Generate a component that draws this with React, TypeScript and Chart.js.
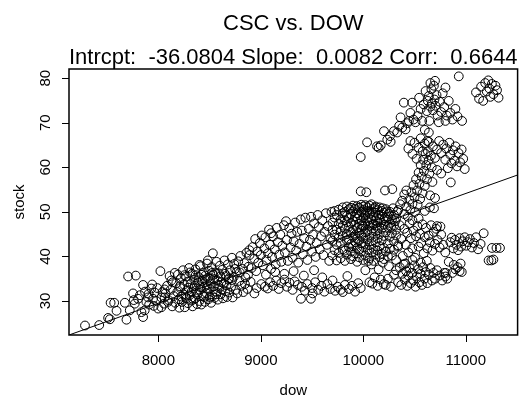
import { useEffect, useRef } from "react";
import { Chart, registerables } from "chart.js";

Chart.register(...registerables);

// ---- axis / annotation values ----
const xTicks = [8000, 9000, 10000, 11000];
const yTicks = [30, 40, 50, 60, 70, 80];
const xLimits = [7128, 11506];
const yLimits = [22.37, 82.05];
const intercept = -36.0804;
const slope = 0.0082;
const corr = 0.6644;

// ---- observations (dow, stock), grouped by region of the cloud ----
const lowerTail: [number, number][] = [
  [7284, 24.5], [7423, 24.6], [7510, 26.2], [7527, 25.9], [7534, 29.6], [7569, 29.6], [7592, 27.8],
  [7705, 35.5], [7780, 35.7], [7689, 25.8], [7673, 29.6], [7721, 27.9], [7753, 31.7], [7851, 33.6],
  [7867, 27.9], [7851, 26.4], [7835, 27.5], [8020, 36.7], [7932, 32.8], [8030, 28.6], [7998, 28.3],
  [7770, 29.4], [7802, 30.5], [7899, 30.8], [7964, 31.9], [8061, 32.6], [8127, 34.6], [7883, 29.8],
  [7948, 30.5], [8061, 30.8], [8093, 29.8], [8029, 30.8], [7820, 31.3], [7910, 29.2], [7980, 30.0],
  [7940, 33.7], [7870, 32.1], [7760, 30.2], [7990, 32.9], [8040, 32.0], [7955, 28.9], [7905, 31.6],
];

const band8000: [number, number][] = [
  [8055, 29.4], [8070, 31.7], [8085, 33.4], [8100, 30.2], [8110, 35.6], [8120, 32.5], [8135, 28.8],
  [8140, 34.2], [8150, 31.1], [8160, 36.3], [8165, 29.6], [8175, 34.0], [8185, 32.0], [8190, 35.9],
  [8200, 30.4], [8205, 28.5], [8215, 32.9], [8220, 35.1], [8230, 29.8], [8240, 36.9], [8245, 31.5],
  [8250, 33.7], [8258, 28.6], [8265, 30.9], [8270, 35.5], [8280, 32.3], [8285, 34.3], [8290, 29.5],
  [8300, 37.4], [8305, 31.3], [8315, 33.8], [8320, 30.1], [8330, 36.1], [8335, 28.8], [8345, 32.8],
  [8350, 34.8], [8358, 30.6], [8362, 37.1], [8370, 31.9], [8378, 29.3], [8385, 34.1], [8392, 35.4],
  [8400, 30.0], [8405, 32.5], [8412, 37.8], [8420, 29.2], [8428, 34.5], [8435, 31.2], [8440, 36.3],
  [8448, 33.2], [8455, 29.8], [8460, 35.7], [8468, 31.8], [8475, 38.4], [8480, 33.6], [8488, 30.4],
  [8495, 36.8], [8500, 32.7], [8508, 35.0], [8515, 29.6], [8520, 37.6], [8528, 31.1], [8535, 35.9],
  [8540, 33.3], [8548, 30.7], [8555, 36.4], [8560, 32.1], [8568, 38.8], [8575, 34.6], [8580, 30.3],
  [8590, 36.2], [8595, 32.9], [8600, 37.9], [8610, 31.5], [8615, 34.2], [8625, 37.0], [8630, 30.6],
  [8640, 33.9], [8645, 39.1], [8655, 32.2], [8660, 35.6], [8670, 30.9], [8678, 38.2], [8685, 34.8],
  [8692, 31.9], [8700, 36.9], [8710, 33.2], [8718, 39.7], [8725, 30.8], [8735, 35.4], [8740, 38.3],
  [8755, 32.5], [8765, 36.5], [8770, 31.7], [8780, 38.9], [8790, 34.5], [8800, 40.1], [8810, 33.4],
  [8820, 37.2], [8830, 32.0], [8840, 38.5], [8850, 35.3], [8860, 40.8], [8870, 32.7], [8880, 37.7],
  [8890, 40.3], [8900, 34.3], [8402, 38.1], [8483, 39.1], [8532, 40.7], [8937, 31.7], [8888, 41.4],
  [8210, 33.3], [8225, 31.0], [8255, 35.8], [8275, 30.6], [8295, 33.0], [8310, 36.4], [8325, 32.1],
  [8340, 30.3], [8355, 33.4], [8365, 35.8], [8382, 31.5], [8395, 34.6], [8410, 33.1], [8425, 35.9],
  [8445, 30.9], [8452, 34.8], [8472, 32.9], [8485, 35.2], [8502, 30.9], [8512, 33.9], [8525, 36.3],
  [8545, 34.9], [8565, 31.5], [8585, 33.6], [8605, 35.5], [8620, 32.6], [8650, 36.1], [8665, 33.5],
  [8690, 35.1], [8720, 34.7], [8750, 37.2], [8795, 36.4], [8845, 33.8], [8875, 35.9],
];

const band9000: [number, number][] = [
  [8910, 37.4], [8920, 42.1], [8935, 39.5], [8945, 43.9], [8955, 36.7], [8965, 41.1], [8975, 38.6],
  [8990, 43.0], [9000, 40.3], [9010, 44.7], [9020, 38.0], [9035, 41.8], [9045, 44.3], [9055, 39.2],
  [9070, 40.7], [9080, 46.0], [9090, 42.6], [9100, 37.2], [9110, 39.9], [9120, 44.5], [9135, 41.6],
  [9145, 38.2], [9155, 46.4], [9165, 43.2], [9178, 40.4], [9190, 44.9], [9200, 38.8], [9210, 42.4],
  [9225, 47.0], [9235, 40.9], [9246, 47.9], [9255, 43.7], [9265, 39.0], [9278, 46.4], [9290, 42.0],
  [9300, 45.1], [9310, 39.7], [9320, 43.4], [9335, 47.6], [9345, 41.3], [9355, 45.5], [9365, 38.6],
  [9378, 42.8], [9390, 48.3], [9400, 45.8], [9410, 40.5], [9422, 44.1], [9435, 48.7], [9445, 42.2],
  [9455, 39.2], [9468, 46.2], [9480, 43.7], [9490, 48.9], [9500, 41.1], [9510, 44.9], [9520, 47.4],
  [9535, 39.9], [9545, 43.0], [9555, 49.3], [9565, 46.6], [9575, 41.6], [9588, 44.5], [9600, 48.1],
  [9610, 40.3], [9622, 45.5], [9635, 49.7], [9645, 42.6], [9655, 46.8], [9668, 39.0], [9680, 43.9],
  [9690, 50.0], [9700, 46.0], [9050, 35.9], [9140, 36.5], [9230, 36.1], [9320, 36.7], [9420, 35.7],
  [9520, 36.9], [9600, 35.3], [9100, 45.2],
];

const lowerArm: [number, number][] = [
  [8960, 32.9], [9005, 33.8], [9040, 33.2], [9067, 32.8], [9090, 34.2], [9120, 33.4], [9150, 34.6],
  [9175, 32.7], [9200, 34.0], [9230, 34.8], [9255, 33.2], [9280, 34.1], [9310, 32.5], [9330, 34.4],
  [9360, 33.6], [9392, 30.5], [9400, 33.2], [9430, 32.3], [9455, 33.8], [9489, 30.5], [9506, 31.7],
  [9500, 32.9], [9530, 34.2], [9560, 32.5], [9590, 33.4], [9620, 32.1], [9650, 33.8], [9680, 32.7],
  [9700, 34.6], [9725, 32.3], [9750, 33.2], [9780, 32.5], [9800, 32.0], [9820, 33.6], [9845, 35.6],
  [9860, 32.7], [9890, 33.4], [9920, 32.1], [9950, 34.0], [9975, 32.9],
];

const centralBlob: [number, number][] = [
  [9700, 40.2], [9700, 43.5], [9700, 47.6], [9720, 41.4], [9720, 44.9], [9720, 48.7], [9720, 50.2],
  [9740, 39.1], [9740, 42.6], [9740, 46.0], [9740, 49.3], [9760, 40.8], [9760, 44.2], [9760, 47.3],
  [9760, 50.5], [9780, 39.6], [9780, 43.0], [9780, 45.6], [9780, 48.3], [9800, 41.6], [9800, 44.6],
  [9800, 46.9], [9800, 49.7], [9800, 51.0], [9820, 39.0], [9820, 41.3], [9820, 46.2], [9820, 48.1],
  [9820, 50.0], [9840, 40.4], [9840, 43.6], [9840, 45.0], [9840, 47.7], [9840, 49.1], [9840, 51.2],
  [9860, 42.1], [9860, 43.8], [9860, 46.7], [9860, 48.7], [9860, 50.6], [9880, 39.4], [9880, 41.1],
  [9880, 42.8], [9880, 45.4], [9880, 47.5], [9880, 49.5], [9880, 50.9], [9900, 40.0], [9900, 42.3],
  [9900, 44.4], [9900, 45.8], [9900, 47.9], [9900, 50.1], [9900, 51.4], [9920, 40.7], [9920, 43.2],
  [9920, 44.8], [9920, 47.1], [9920, 48.9], [9920, 50.7], [9940, 38.8], [9940, 41.9], [9940, 44.0],
  [9940, 46.4], [9940, 48.5], [9940, 49.7], [9940, 51.3], [9960, 39.8], [9960, 41.5], [9960, 43.6],
  [9960, 45.2], [9960, 47.3], [9960, 49.3], [9960, 50.9], [9980, 41.1], [9980, 43.0], [9980, 44.6],
  [9980, 46.2], [9980, 48.1], [9980, 50.0], [9980, 51.6], [10000, 39.2], [10000, 42.1], [10000, 44.2],
  [10000, 46.7], [10000, 48.7], [10000, 50.4], [10000, 51.2], [10020, 40.2], [10020, 42.8], [10020, 45.4],
  [10020, 47.5], [10020, 49.2], [10020, 51.5], [10040, 41.5], [10040, 43.8], [10040, 46.0], [10040, 47.9],
  [10040, 50.2], [10040, 51.0], [10060, 39.6], [10060, 42.5], [10060, 44.8], [10060, 46.9], [10060, 49.6],
  [10060, 51.4], [10080, 40.9], [10080, 43.4], [10080, 45.8], [10080, 48.3], [10080, 50.0], [10080, 51.7],
  [10100, 39.0], [10100, 41.7], [10100, 44.4], [10100, 47.3], [10100, 49.0], [10100, 50.6], [10120, 40.4],
  [10120, 43.2], [10120, 45.6], [10120, 48.1], [10120, 49.8], [10120, 51.2], [10140, 41.3], [10140, 44.0],
  [10140, 46.4], [10140, 47.7], [10140, 50.4], [10160, 39.8], [10160, 42.3], [10160, 45.0], [10160, 48.5],
  [10160, 51.0], [10180, 40.6], [10180, 43.6], [10180, 46.2], [10180, 49.4], [10180, 50.2], [10200, 39.4],
  [10200, 41.9], [10200, 44.6], [10200, 47.1], [10200, 49.8], [10220, 41.1], [10220, 45.4], [10220, 47.9],
  [10220, 50.6], [10240, 40.0], [10240, 42.9], [10240, 46.6], [10240, 48.9], [10260, 41.7], [10260, 44.4],
  [10260, 47.5], [10260, 50.0], [10280, 40.2], [10280, 45.2], [10280, 48.3], [10300, 41.5], [10300, 43.4],
  [10300, 46.9], [10300, 49.3], [10320, 39.2], [10320, 46.0], [10320, 48.5], [10340, 42.5], [10340, 50.4],
  [9990, 47.0], [10010, 49.8], [10050, 48.6], [10090, 47.0], [10110, 50.9], [10130, 46.9], [10150, 49.2],
  [10170, 47.6], [10190, 50.8], [10210, 48.6], [10230, 50.1], [10250, 49.6], [10270, 46.6], [10290, 50.8],
  [10310, 47.9], [10330, 50.0], [10380, 52.5], [10400, 53.9], [10360, 51.7], [10420, 54.8],
];

const middleArm: [number, number][] = [
  [10320, 44.7], [10340, 42.2], [10355, 47.0], [10370, 43.9], [10385, 40.1], [10400, 46.2], [10415, 42.6],
  [10428, 45.3], [10440, 40.9], [10452, 47.4], [10465, 44.1], [10478, 41.8], [10490, 45.8], [10505, 39.7],
  [10515, 44.5], [10528, 46.8], [10540, 42.2], [10552, 45.1], [10565, 43.0], [10578, 47.2], [10590, 40.7],
  [10600, 44.3], [10612, 46.4], [10625, 41.8], [10638, 44.7], [10650, 43.2], [10662, 47.0], [10675, 41.3],
  [10688, 45.5], [10700, 42.8], [10712, 46.2], [10725, 43.7], [10745, 42.0], [10760, 44.9], [10780, 42.6],
  [10800, 40.9], [10620, 39.0], [10560, 38.6], [10480, 39.2], [10410, 38.4],
];

const lowerBand: [number, number][] = [
  [10060, 34.2], [10088, 33.9], [10110, 35.3], [10140, 33.4], [10170, 34.8], [10200, 33.8], [10219, 33.6],
  [10240, 35.0], [10270, 33.2], [10300, 35.9], [10320, 36.9], [10340, 34.2], [10355, 37.6], [10370, 33.6],
  [10381, 36.1], [10395, 38.2], [10405, 34.8], [10418, 36.7], [10430, 33.4], [10440, 35.7], [10452, 37.4],
  [10462, 34.0], [10475, 36.3], [10488, 34.6], [10498, 38.0], [10510, 33.2], [10522, 35.5], [10535, 37.1],
  [10548, 34.2], [10560, 36.1], [10572, 33.6], [10585, 37.6], [10598, 35.0], [10610, 36.5], [10625, 34.0],
  [10640, 35.9], [10655, 37.4], [10670, 34.6], [10685, 36.3], [10700, 35.0], [10720, 36.9], [10745, 35.7],
  [10770, 34.6], [10790, 36.3], [10805, 36.3], [10820, 35.0], [10020, 36.9], [10080, 38.2], [10150, 37.1],
  [10250, 37.8], [10050, 39.0], [10190, 38.6],
];

const risingColumn: [number, number][] = [
  [10400, 49.5], [10420, 51.2], [10435, 48.9], [10450, 52.7], [10460, 50.4], [10470, 54.4], [10480, 51.8],
  [10490, 56.0], [10500, 53.3], [10505, 50.0], [10515, 57.3], [10525, 54.8], [10530, 51.6], [10540, 58.8],
  [10548, 56.3], [10555, 52.9], [10560, 60.5], [10570, 57.9], [10578, 54.2], [10585, 61.7], [10592, 59.2],
  [10600, 55.8], [10608, 63.0], [10615, 60.5], [10622, 57.3], [10630, 63.6], [10638, 61.5], [10645, 58.6],
  [10652, 53.7], [10660, 62.6], [10668, 60.0], [10675, 56.7], [10690, 50.8], [10700, 53.1], [10540, 48.5],
  [10600, 50.2], [10650, 51.0], [10480, 48.1],
];

const columnTop: [number, number][] = [
  [10440, 64.2], [10460, 65.9], [10480, 63.0], [10500, 65.5], [10520, 61.9], [10540, 64.4], [10560, 66.5],
  [10580, 63.6], [10600, 65.3], [10640, 65.7], [10680, 64.7], [10700, 62.1], [10720, 64.0], [10740, 65.9],
  [10760, 63.2], [10780, 65.1], [10800, 61.7], [10810, 64.2], [10825, 59.8], [10840, 65.5], [10850, 62.8],
  [10860, 60.9], [10875, 63.8], [10890, 61.5], [10900, 64.7], [10915, 60.2], [10930, 63.2], [10945, 61.1],
  [10960, 64.0], [10975, 61.9], [10990, 59.6], [10854, 56.6], [10720, 59.4], [10760, 58.6],
];

const upperArm: [number, number][] = [
  [10150, 64.4], [10170, 64.9], [10202, 68.1], [10234, 66.2], [10260, 67.0], [10267, 65.7], [10299, 68.1],
  [10331, 67.8], [10350, 69.3], [10364, 71.2], [10380, 68.9], [10396, 74.5], [10413, 68.5], [10430, 69.9],
  [10445, 70.4], [10460, 72.2], [10477, 74.5], [10490, 70.7], [10510, 70.1], [10530, 71.5], [10545, 75.6],
  [10560, 73.1], [10575, 70.4], [10590, 74.1], [10608, 77.1], [10620, 72.6], [10630, 74.9], [10640, 76.0],
  [10645, 70.4], [10655, 73.6], [10665, 77.5], [10670, 74.3], [10680, 72.8], [10689, 78.3], [10695, 75.2],
  [10705, 73.8], [10715, 76.2], [10725, 71.6], [10737, 70.1], [10745, 74.7], [10760, 72.4], [10775, 76.6],
  [10790, 73.5], [10802, 77.9], [10802, 70.4], [10815, 71.6], [10834, 74.9], [10850, 72.2], [10870, 70.7],
  [10899, 73.1], [10920, 71.4], [10932, 80.4], [10964, 70.4], [10640, 67.8], [10624, 65.9], [10600, 68.4],
  [10700, 79.4], [10655, 78.9], [9975, 62.3], [10037, 65.6], [10134, 64.7], [9975, 54.6], [10030, 54.4],
  [10212, 54.8], [10283, 55.1],
];

const upperRight: [number, number][] = [
  [11100, 76.8], [11130, 75.4], [11150, 78.1], [11170, 74.9], [11190, 78.9], [11205, 77.0], [11220, 79.5],
  [11230, 77.7], [11240, 75.8], [11255, 78.7], [11270, 76.4], [11290, 78.3], [11305, 77.3], [11320, 75.6],
];

const rightCluster: [number, number][] = [
  [10834, 38.8], [10850, 43.2], [10863, 44.2], [10880, 41.8], [10895, 43.7], [10910, 42.6], [10925, 41.4],
  [10940, 44.1], [10955, 42.2], [10970, 43.4], [10990, 44.3], [11005, 42.4], [11020, 43.2], [11040, 43.9],
  [11060, 42.0], [11080, 43.0], [11100, 44.3], [11120, 41.6], [11145, 42.8], [11175, 45.2], [11256, 41.9],
  [11300, 41.9], [11334, 41.9], [11223, 39.1], [11250, 39.1], [11270, 39.3], [10883, 38.1], [10900, 37.1],
  [10920, 37.6], [10940, 36.7], [10961, 36.5], [10802, 35.5], [10870, 36.3], [10950, 38.4], [10753, 46.7],
  [10720, 46.8],
];

const allPoints = [
  ...lowerTail, ...band8000, ...band9000, ...lowerArm, ...centralBlob, ...middleArm,
  ...lowerBand, ...risingColumn, ...columnTop, ...upperArm, ...upperRight, ...rightCluster,
];

const FONT = '"Liberation Sans", Arial, Helvetica, sans-serif';

const rFrame = {
  id: "rFrame",
  afterDraw(chart: any) {
    const { ctx, chartArea: a, scales } = chart;
    ctx.save();
    ctx.strokeStyle = "#000";
    ctx.lineWidth = 1.5;
    ctx.strokeRect(a.left, a.top, a.right - a.left, a.bottom - a.top);
    ctx.lineWidth = 1;
    ctx.beginPath();
    for (const v of xTicks) {
      const x = Math.round(scales.x.getPixelForValue(v)) + 0.5;
      ctx.moveTo(x, a.bottom);
      ctx.lineTo(x, a.bottom + 7);
    }
    for (const v of yTicks) {
      const y = Math.round(scales.y.getPixelForValue(v)) + 0.5;
      ctx.moveTo(a.left, y);
      ctx.lineTo(a.left - 7, y);
    }
    ctx.stroke();
    ctx.fillStyle = "#000";
    ctx.font = `15px ${FONT}`;
    ctx.textAlign = "center";
    ctx.textBaseline = "alphabetic";
    for (const v of yTicks) {
      const y = scales.y.getPixelForValue(v);
      ctx.save();
      ctx.translate(a.left - 19, y);
      ctx.rotate(-Math.PI / 2);
      ctx.fillText(String(v), 0, 0);
      ctx.restore();
    }
    ctx.restore();
  },
};

export default function App() {
  const ref = useRef<HTMLCanvasElement | null>(null);
  useEffect(() => {
    if (!ref.current) return;
    const lineData = xLimits.map((x) => ({ x, y: intercept + slope * x }));
    const chart = new Chart(ref.current, {
      type: "scatter",
      data: {
        datasets: [
          {
            label: "stock",
            data: allPoints.map(([x, y]) => ({ x, y })),
            pointStyle: "circle",
            pointRadius: 4.4,
            pointBorderWidth: 1,
            pointBorderColor: "#000",
            pointBackgroundColor: "rgba(0,0,0,0)",
            pointHoverRadius: 4.4,
          },
          {
            type: "line",
            label: "fit",
            data: lineData,
            borderColor: "#000",
            borderWidth: 1,
            pointRadius: 0,
            fill: false,
          } as any,
        ],
      },
      options: {
        animation: false,
        responsive: false,
        events: [],
        layout: { padding: { left: 0, right: 4, top: 0, bottom: 0 } },
        plugins: {
          legend: { display: false },
          tooltip: { enabled: false },
          title: {
            display: true,
            text: "CSC vs. DOW",
            color: "#000",
            fullSize: false,
            font: { family: FONT, size: 22, weight: "normal", lineHeight: 1.2 },
            padding: { top: 10.5, bottom: 12.6 },
          },
          subtitle: {
            display: true,
            text: `Intrcpt:  ${intercept} Slope:  ${slope.toFixed(4)} Corr:  ${corr}`,
            color: "#000",
            fullSize: false,
            font: { family: FONT, size: 22, weight: "normal", lineHeight: 0.8 },
            padding: { top: 0, bottom: 1.9 },
          },
        },
        scales: {
          x: {
            type: "linear",
            min: xLimits[0],
            max: xLimits[1],
            afterBuildTicks: (s: any) => {
              s.ticks = xTicks.map((value) => ({ value }));
            },
            afterFit: (s: any) => {
              s.height = 69;
            },
            grid: { display: false, drawTicks: false },
            border: { display: false },
            ticks: {
              color: "#000",
              font: { family: FONT, size: 15 },
              padding: 17,
              maxRotation: 0,
              callback: (v: any) => String(v),
            },
            title: {
              display: true,
              text: "dow",
              color: "#000",
              font: { family: FONT, size: 15 },
              padding: { top: 0, bottom: 4 },
            },
          },
          y: {
            type: "linear",
            min: yLimits[0],
            max: yLimits[1],
            afterBuildTicks: (s: any) => {
              s.ticks = yTicks.map((value) => ({ value }));
            },
            afterFit: (s: any) => {
              s.width = 69;
            },
            grid: { display: false, drawTicks: false },
            border: { display: false },
            ticks: { display: false },
            title: {
              display: true,
              text: "stock",
              color: "#000",
              font: { family: FONT, size: 15 },
              padding: { top: 11, bottom: 0 },
            },
          },
        },
      },
      plugins: [rFrame],
    });
    return () => chart.destroy();
  }, []);

  return (
    <div style={{ position: "absolute", left: 0, top: 0, width: 523, height: 404, background: "#fff" }}>
      <canvas ref={ref} width={523} height={404} />
    </div>
  );
}
